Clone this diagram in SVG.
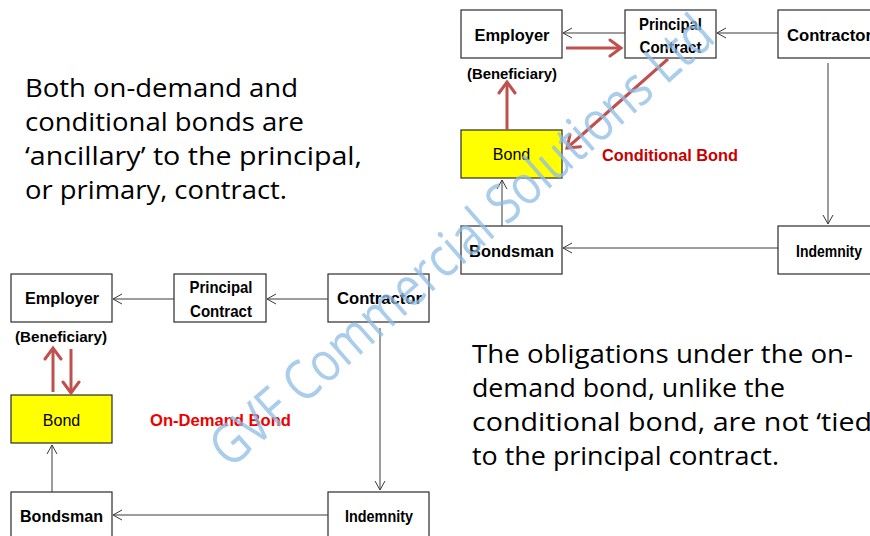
<svg xmlns="http://www.w3.org/2000/svg" width="870" height="536" viewBox="0 0 870 536">
<style>
.box{fill:#ffffff;stroke:#2b2b2b;stroke-width:1.2}
.bond{fill:#ffff00;stroke:#2b2b2b;stroke-width:1.2}
.lbl{font-family:"Liberation Sans",Arial,sans-serif;font-weight:bold;font-size:17px;fill:#000;text-anchor:middle}
.ben{font-family:"Liberation Sans",Arial,sans-serif;font-weight:bold;font-size:15px;fill:#000;text-anchor:middle}
.bt{font-family:"Liberation Sans",Arial,sans-serif;font-size:16px;fill:#000;text-anchor:middle}
.red{font-family:"Liberation Sans",Arial,sans-serif;font-weight:bold;font-size:17px}
.body{font-family:"Open Sans","Noto Sans",sans-serif;font-size:26px;fill:#000}
.thin{stroke:#3a3a3a;stroke-width:1;fill:none;marker-end:url(#oa)}
.rarr{stroke:#c0504d;stroke-width:3;fill:none;marker-end:url(#ra)}
.wm{font-family:"Open Sans","Noto Sans",sans-serif;font-size:55px;fill:#8fbce6;fill-opacity:0.75}
</style>
<defs>
<marker id="oa" markerUnits="userSpaceOnUse" markerWidth="12" markerHeight="12" viewBox="0 0 12 12" refX="10" refY="6" orient="auto">
<path d="M1,1 L10,6 L1,11" fill="none" stroke="#3a3a3a" stroke-width="1"/>
</marker>
<marker id="ra" markerUnits="userSpaceOnUse" markerWidth="18" markerHeight="20" viewBox="0 0 18 20" refX="15" refY="10" orient="auto">
<path d="M4,2 L15,10 L4,18" fill="none" stroke="#c0504d" stroke-width="3" stroke-linecap="round" stroke-linejoin="miter"/>
</marker>
</defs>
<rect width="870" height="536" fill="#ffffff"/>

<g id="text-left">
<text class="body" x="25" y="97" textLength="273" lengthAdjust="spacingAndGlyphs">Both on-demand and</text>
<text class="body" x="25" y="131" textLength="279" lengthAdjust="spacingAndGlyphs">conditional bonds are</text>
<text class="body" x="25" y="165" textLength="337" lengthAdjust="spacingAndGlyphs">‘ancillary’ to the principal,</text>
<text class="body" x="25" y="199" textLength="262" lengthAdjust="spacingAndGlyphs">or primary, contract.</text>
</g>
<g id="text-right">
<text class="body" x="472" y="363" textLength="381" lengthAdjust="spacingAndGlyphs">The obligations under the on-</text>
<text class="body" x="472" y="397" textLength="313" lengthAdjust="spacingAndGlyphs">demand bond, unlike the</text>
<text class="body" x="472" y="431" textLength="405" lengthAdjust="spacingAndGlyphs">conditional bond, are not ‘tied’</text>
<text class="body" x="472" y="465" textLength="307" lengthAdjust="spacingAndGlyphs">to the principal contract.</text>
</g>

<!-- Conditional bond diagram (top right) -->
<g id="c-employer">
<rect class="box" x="461" y="10" width="101" height="48"/>
<text class="lbl" x="512" y="41" textLength="75" lengthAdjust="spacingAndGlyphs">Employer</text>
<text class="ben" x="512" y="79" textLength="90" lengthAdjust="spacingAndGlyphs">(Beneficiary)</text>
</g>
<g id="c-principal">
<rect class="box" x="625" y="10" width="91" height="48"/>
<text class="lbl" x="670.5" y="30" textLength="63" lengthAdjust="spacingAndGlyphs">Principal</text>
<text class="lbl" x="670.5" y="53" textLength="62" lengthAdjust="spacingAndGlyphs">Contract</text>
</g>
<g id="c-contractor">
<rect class="box" x="778" y="10" width="100" height="48"/>
<text class="lbl" x="787" y="41" style="text-anchor:start" textLength="85" lengthAdjust="spacingAndGlyphs">Contractor</text>
</g>
<g id="c-bond">
<rect class="bond" x="461" y="130" width="101" height="48"/>
<text class="bt" x="511.5" y="160">Bond</text>
</g>
<g id="c-bondsman">
<rect class="box" x="461" y="226" width="101" height="48"/>
<text class="lbl" x="511.5" y="257" textLength="85" lengthAdjust="spacingAndGlyphs">Bondsman</text>
</g>
<g id="c-indemnity">
<rect class="box" x="778" y="226" width="100" height="48"/>
<text class="lbl" x="829" y="257" textLength="66" lengthAdjust="spacingAndGlyphs">Indemnity</text>
</g>
<g id="c-title">
<text class="red" x="602" y="161" fill="#c80000" textLength="136" lengthAdjust="spacingAndGlyphs">Conditional Bond</text>
</g>

<!-- On-demand bond diagram (bottom left) -->
<g id="d-employer">
<rect class="box" x="11" y="274" width="101" height="48"/>
<text class="lbl" x="62" y="304" textLength="74" lengthAdjust="spacingAndGlyphs">Employer</text>
<text class="ben" x="61" y="342" textLength="92" lengthAdjust="spacingAndGlyphs">(Beneficiary)</text>
</g>
<g id="d-principal">
<rect class="box" x="174" y="274" width="92" height="48"/>
<text class="lbl" x="221" y="293" textLength="63" lengthAdjust="spacingAndGlyphs">Principal</text>
<text class="lbl" x="221" y="317" textLength="62" lengthAdjust="spacingAndGlyphs">Contract</text>
</g>
<g id="d-contractor">
<rect class="box" x="328" y="274" width="101" height="48"/>
<text class="lbl" x="379.5" y="304" textLength="85" lengthAdjust="spacingAndGlyphs">Contractor</text>
</g>
<g id="d-bond">
<rect class="bond" x="11" y="395" width="101" height="48"/>
<text class="bt" x="61.5" y="426">Bond</text>
</g>
<g id="d-bondsman">
<rect class="box" x="11" y="492" width="101" height="48"/>
<text class="lbl" x="61.5" y="522" textLength="83" lengthAdjust="spacingAndGlyphs">Bondsman</text>
</g>
<g id="d-indemnity">
<rect class="box" x="328" y="492" width="101" height="48"/>
<text class="lbl" x="379" y="522" textLength="68" lengthAdjust="spacingAndGlyphs">Indemnity</text>
</g>
<g id="d-title">
<text class="red" x="150" y="426" fill="#ee0000" textLength="141" lengthAdjust="spacingAndGlyphs">On-Demand Bond</text>
</g>

<g id="connectors">
<line class="thin" x1="625" y1="33" x2="563" y2="33"/>
<line class="thin" x1="778" y1="33" x2="717" y2="33"/>
<line class="thin" x1="828" y1="63" x2="828" y2="224"/>
<line class="thin" x1="778" y1="248" x2="563" y2="248"/>
<line class="thin" x1="502" y1="226" x2="502" y2="180"/>
<line class="rarr" x1="566" y1="48" x2="621" y2="48"/>
<line class="rarr" x1="668" y1="59" x2="567" y2="148"/>
<line class="rarr" x1="507" y1="130" x2="507" y2="82"/>

<line class="thin" x1="174" y1="299" x2="113" y2="299"/>
<line class="thin" x1="328" y1="299" x2="267" y2="299"/>
<line class="thin" x1="380" y1="328" x2="380" y2="490"/>
<line class="thin" x1="328" y1="515" x2="113" y2="515"/>
<line class="thin" x1="52" y1="492" x2="52" y2="445"/>
<line class="rarr" x1="53" y1="392" x2="53" y2="348"/>
<line class="rarr" x1="71" y1="349" x2="71" y2="393"/>
</g>

<g id="watermark">
<text class="wm" transform="translate(230,470) rotate(-41.4)" x="0" y="0" textLength="650" lengthAdjust="spacingAndGlyphs">GVF Commercial Solutions Ltd</text>
</g>
</svg>
